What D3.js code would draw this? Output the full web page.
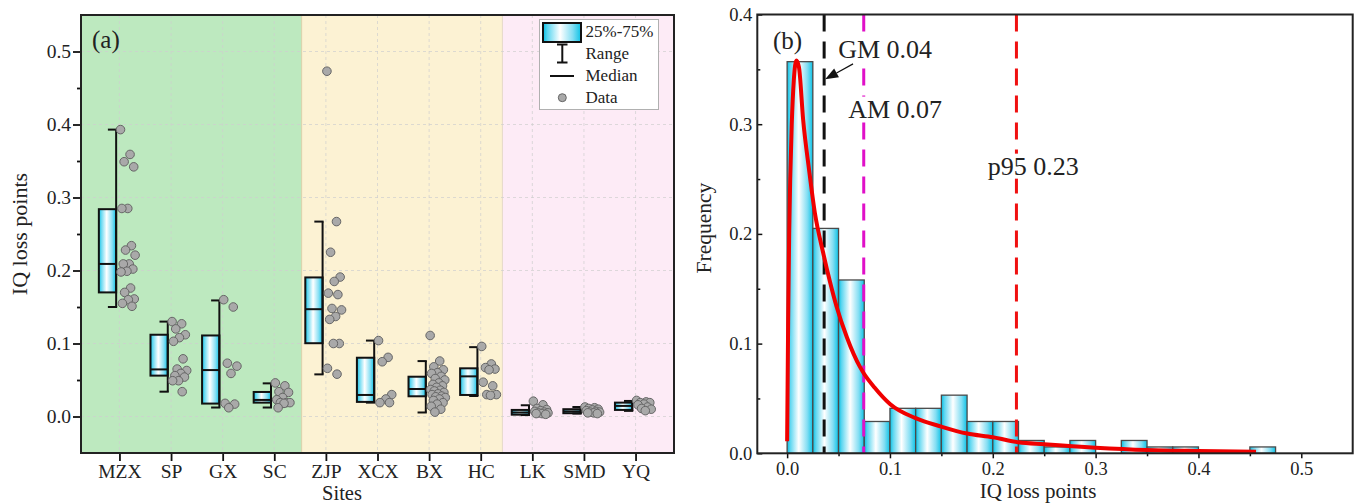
<!DOCTYPE html>
<html><head><meta charset="utf-8">
<script src="https://cdn.jsdelivr.net/npm/d3@7"></script>
<style>
body{margin:0;background:#fff}
svg{display:block;font-family:"Liberation Serif","Times New Roman",Times,serif}
</style>
</head><body>
<svg id="c" width="1354" height="504"></svg>
<script>
// ---------- DATA: panel (a) ----------
const sites   = ["MZX","SP","GX","SC","ZJP","XCX","BX","HC","LK","SMD","YQ"];
const q1      = [0.170,0.056,0.0177,0.019,0.1004,0.020,0.0277,0.0295,0.0025,0.0045,0.009];
const median  = [0.209,0.0645,0.0636,0.0227,0.147,0.0295,0.0377,0.055,0.0055,0.007,0.0145];
const q3      = [0.284,0.112,0.111,0.0336,0.1905,0.0805,0.0545,0.066,0.009,0.010,0.019];
const rangeMin= [0.150,0.034,0.0123,0.0123,0.0577,0.019,0.0055,0.0281,0.002,0.004,0.0077];
const rangeMax= [0.393,0.130,0.159,0.0454,0.267,0.104,0.0759,0.095,0.0154,0.013,0.0213];
const dataMZX = [0.393,0.359,0.349,0.342,0.285,0.285,0.234,0.228,0.221,0.209,0.209,0.202,0.199,0.198,0.176,0.170,0.161,0.160,0.155,0.151];
const dataSP  = [0.130,0.127,0.120,0.112,0.108,0.103,0.079,0.065,0.063,0.059,0.056,0.054,0.049,0.049,0.034];
const dataGX  = [0.160,0.150,0.073,0.069,0.059,0.018,0.017,0.012];
const dataSC  = [0.046,0.042,0.034,0.033,0.026,0.023,0.019,0.019,0.019,0.018,0.012];
const dataZJP = [0.473,0.267,0.225,0.191,0.185,0.169,0.167,0.148,0.146,0.137,0.133,0.100,0.100,0.066,0.058];
const dataXCX = [0.104,0.081,0.075,0.030,0.024,0.019,0.019];
const dataBX  = [0.111,0.076,0.068,0.064,0.060,0.059,0.055,0.052,0.050,0.046,0.044,0.042,0.040,0.037,0.036,0.035,0.033,0.031,0.030,0.028,0.027,0.026,0.024,0.022,0.019,0.017,0.014,0.010,0.006];
const dataHC  = [0.096,0.072,0.067,0.065,0.064,0.047,0.042,0.030,0.030,0.029];
const dataLK  = [0.021,0.016,0.011,0.0095,0.008,0.007,0.006,0.005,0.005,0.004,0.004,0.003];
const dataSMD = [0.013,0.012,0.011,0.010,0.009,0.008,0.007,0.006,0.006,0.005,0.005,0.004];
const dataYQ  = [0.022,0.020,0.019,0.019,0.017,0.016,0.013,0.011,0.010,0.008];
const siteData = [dataMZX,dataSP,dataGX,dataSC,dataZJP,dataXCX,dataBX,dataHC,dataLK,dataSMD,dataYQ];
const yTicksA = [0.0,0.1,0.2,0.3,0.4,0.5];
const yMinorA = [0.05,0.15,0.25,0.35,0.45];
const legendLabels = ["25%-75%","Range","Median","Data"];

// ---------- DATA: panel (b) ----------
const binLo = [0.000,0.025,0.050,0.075,0.100,0.125,0.150,0.175,0.200,0.225,0.250,0.275,0.300,0.325,0.350,0.375,0.400,0.425,0.450];
const freq  = [0.357,0.205,0.158,0.029,0.041,0.041,0.053,0.029,0.029,0.0117,0.0058,0.0117,0,0.0117,0.0058,0.0058,0,0,0.0058];
const binWidth = 0.025;
const fitX = [0.000,0.001,0.002,0.003,0.0045,0.0065,0.009,0.0115,0.0156,0.0214,0.027,0.035,0.0415,0.048,0.058,0.0707,0.0745,0.085,0.100,0.125,0.150,0.175,0.200,0.225,0.250,0.300,0.350,0.400,0.456];
const fitY = [0.011,0.120,0.200,0.250,0.300,0.340,0.358,0.352,0.304,0.258,0.219,0.183,0.157,0.134,0.106,0.079,0.073,0.060,0.045,0.032,0.0243,0.018,0.0146,0.010,0.0082,0.0051,0.0030,0.0021,0.0015];
const refNames  = ["GM","AM","p95"];
const refValues = [0.036,0.0745,0.223];
const refLabels = ["GM 0.04","AM 0.07","p95 0.23"];
const refLabelY = [0.36,0.306,0.254];
const xTicksB = [0.0,0.1,0.2,0.3,0.4,0.5];
const xMinorB = [0.05,0.15,0.25,0.35,0.45];
const yTicksB = [0.0,0.1,0.2,0.3,0.4];
const yMinorB = [0.05,0.15,0.25,0.35];

// ---------- DRAW ----------
const svg = d3.select("#c");
const defs = svg.append("defs");
const grad = defs.append("linearGradient").attr("id","cyan")
  .attr("x1","0%").attr("x2","100%").attr("y1","0%").attr("y2","0%");
[[0,"#06c0e4"],[0.12,"#5cd6f0"],[0.45,"#ffffff"],[0.78,"#84def3"],[1,"#0cc2e6"]]
  .forEach(([o,c])=>grad.append("stop").attr("offset",o).attr("stop-color",c));

const fmt = d3.format(".1f");
function styleAxis(a, fs, sw){
  a.attr("font-family",null).attr("font-size",null);
  a.select(".domain").remove();
  a.selectAll("line").attr("stroke","#111").attr("stroke-width",sw);
  a.selectAll("text").attr("font-size",fs).attr("fill","#222");
}

// ===== Panel (a) =====
const A = {x0:81, x1:674, y0:15, y1:453};
const xA = d3.scalePoint().domain(sites).range([A.x0,A.x1]).padding(0.745);
const yA = d3.scaleLinear().domain([-0.05,0.55]).range([A.y1,A.y0]);
const step = xA.step();
const gA = svg.append("g");

// zones
const b1 = xA("SC")+0.53*step, b2 = xA("HC")+0.42*step;
[[A.x0,b1,"#bde9bf"],[b1,b2,"#fcf2d3"],[b2,A.x1,"#fdebf6"]].forEach(([a,b,c])=>{
  gA.append("rect").attr("x",a).attr("y",A.y0).attr("width",b-a).attr("height",A.y1-A.y0).attr("fill",c);
});
gA.append("line").attr("x1",b1).attr("x2",b1).attr("y1",A.y0).attr("y2",A.y1).attr("stroke","#d8d0a8").attr("stroke-width",1);
gA.append("line").attr("x1",b2).attr("x2",b2).attr("y1",A.y0).attr("y2",A.y1).attr("stroke","#e6d8c8").attr("stroke-width",1);

// grid
yTicksA.forEach(v=>gA.append("line").attr("x1",A.x0).attr("x2",A.x1).attr("y1",yA(v)).attr("y2",yA(v))
  .attr("stroke","#cfcfcf").attr("stroke-width",0.7).attr("stroke-dasharray","3,3"));
sites.forEach(s=>gA.append("line").attr("x1",xA(s)).attr("x2",xA(s)).attr("y1",A.y0).attr("y2",A.y1)
  .attr("stroke","#cfcfcf").attr("stroke-width",0.7).attr("stroke-dasharray","3,3"));

// boxes
sites.forEach((s,i)=>{
  const cx = xA(s);
  const right = cx - 0.064*step, left = right - 0.335*step;
  gA.append("rect").attr("x",left).attr("y",yA(q3[i])).attr("width",right-left)
    .attr("height",Math.max(yA(q1[i])-yA(q3[i]),1)).attr("fill","url(#cyan)")
    .attr("stroke","#111").attr("stroke-width",2);
  gA.append("line").attr("x1",left).attr("x2",right).attr("y1",yA(median[i])).attr("y2",yA(median[i]))
    .attr("stroke","#111").attr("stroke-width",2);
  gA.append("line").attr("x1",right).attr("x2",right).attr("y1",yA(rangeMin[i])).attr("y2",yA(rangeMax[i]))
    .attr("stroke","#111").attr("stroke-width",2);
  [rangeMin[i],rangeMax[i]].forEach(v=>gA.append("line").attr("x1",right-0.16*step).attr("x2",right+1)
    .attr("y1",yA(v)).attr("y2",yA(v)).attr("stroke","#111").attr("stroke-width",2));
});
// points
sites.forEach((s,i)=>{
  const cx = xA(s);
  siteData[i].forEach((v,j)=>{
    const off = (0.02 + ((j*0.618034)%1)*0.30)*step;
    gA.append("circle").attr("cx",cx+off).attr("cy",yA(v)).attr("r",4.3)
      .attr("fill","#a9a9a9").attr("stroke","#666").attr("stroke-width",1);
  });
});

// axes
const axA_y = gA.append("g").attr("transform",`translate(${A.x0},0)`)
  .call(d3.axisLeft(yA).tickValues(yTicksA).tickSize(8).tickPadding(2).tickFormat(fmt));
const axA_ym = gA.append("g").attr("transform",`translate(${A.x0},0)`)
  .call(d3.axisLeft(yA).tickValues(yMinorA).tickSize(4).tickFormat(""));
const axA_x = gA.append("g").attr("transform",`translate(0,${A.y1})`)
  .call(d3.axisBottom(xA).tickSize(8).tickPadding(3));
[axA_y,axA_ym,axA_x].forEach(a=>styleAxis(a,19.5,1.8));
gA.append("rect").attr("x",A.x0).attr("y",A.y0).attr("width",A.x1-A.x0).attr("height",A.y1-A.y0)
  .attr("fill","none").attr("stroke","#222").attr("stroke-width",2);

gA.append("text").attr("x",92).attr("y",48).attr("font-size",25).attr("fill","#222").text("(a)");
gA.append("text").attr("transform","translate(27,234) rotate(-90)").attr("text-anchor","middle")
  .attr("font-size",22).attr("fill","#222").text("IQ loss points");
gA.append("text").attr("x",342).attr("y",499.5).attr("text-anchor","middle")
  .attr("font-size",20.5).attr("fill","#222").text("Sites");

// legend
const lg = gA.append("g");
lg.append("rect").attr("x",539.5).attr("y",19.5).attr("width",119).attr("height",90)
  .attr("fill","#fff").attr("stroke","#b0b0b0").attr("stroke-width",1);
lg.append("rect").attr("x",543).attr("y",23).attr("width",38).attr("height",19)
  .attr("fill","url(#cyan)").attr("stroke","#111").attr("stroke-width",2);
lg.append("line").attr("x1",562.3).attr("x2",562.3).attr("y1",44.5).attr("y2",62.5).attr("stroke","#111").attr("stroke-width",2);
[44.5,62.5].forEach(y=>lg.append("line").attr("x1",557).attr("x2",567.5).attr("y1",y).attr("y2",y).attr("stroke","#111").attr("stroke-width",2));
lg.append("line").attr("x1",550).attr("x2",574).attr("y1",76).attr("y2",76).attr("stroke","#111").attr("stroke-width",2);
lg.append("circle").attr("cx",562.3).attr("cy",97.7).attr("r",4).attr("fill","#a9a9a9").attr("stroke","#666").attr("stroke-width",1);
[37,59,81,103].forEach((y,k)=>lg.append("text").attr("x",585.5).attr("y",y).attr("font-size",17)
  .attr("fill","#222").text(legendLabels[k]));

// ===== Panel (b) =====
const B = {x0:757.3, x1:1352.7, y0:14.5, y1:453.3};
const xB = d3.scaleLinear().domain([-0.029,0.55]).range([B.x0,B.x1]);
const yB = d3.scaleLinear().domain([0,0.4]).range([B.y1,B.y0]);
const gB = svg.append("g");

// bars
binLo.forEach((lo,i)=>{
  if(freq[i]<=0) return;
  gB.append("rect").attr("x",xB(lo)).attr("y",yB(freq[i])).attr("width",xB(lo+binWidth)-xB(lo))
    .attr("height",yB(0)-yB(freq[i])).attr("fill","url(#cyan)").attr("stroke","#4a4a4a").attr("stroke-width",1.3);
});

// reference lines
const refColors = ["#111","#e010c8","#f01010"];
refValues.forEach((v,i)=>{
  gB.append("line").attr("x1",xB(v)).attr("x2",xB(v)).attr("y1",yB(0.4)).attr("y2",yB(0))
    .attr("stroke",refColors[i]).attr("stroke-width",3).attr("stroke-dasharray","17,10");
});

// fitted curve
const fitPts = fitX.map((x,i)=>[x,fitY[i]]);
gB.append("path").datum(fitPts)
  .attr("d",d3.line().x(d=>xB(d[0])).y(d=>yB(d[1])).curve(d3.curveMonotoneX))
  .attr("fill","none").attr("stroke","#f00000").attr("stroke-width",4).attr("stroke-linejoin","round");

// labels with white background
const labelX = [0.0497,0.0594,0.195];
refLabels.forEach((t,i)=>{
  const tg = gB.append("g");
  const tx = tg.append("text").attr("x",xB(labelX[i])).attr("y",yB(refLabelY[i]))
    .attr("font-size",26).attr("fill","#222").text(t);
  const bb = tx.node().getBBox();
  tg.insert("rect","text").attr("x",bb.x-1).attr("y",bb.y+2).attr("width",bb.width+2).attr("height",bb.height-4).attr("fill","#fff");
});

// arrow to GM line
const arrowFrom = [0.0641,0.355], arrowTo = [0.0370,0.341];
{
  const x1=xB(arrowFrom[0]), y1=yB(arrowFrom[1]), x2=xB(arrowTo[0]), y2=yB(arrowTo[1]);
  const dx=x2-x1, dy=y2-y1, L=Math.hypot(dx,dy), ux=dx/L, uy=dy/L;
  const hl=13, hw=5;
  const bx=x2-ux*hl, by=y2-uy*hl;
  gB.append("line").attr("x1",x1).attr("y1",y1).attr("x2",bx).attr("y2",by).attr("stroke","#111").attr("stroke-width",1.2);
  gB.append("path").attr("d",`M${x2},${y2}L${bx-uy*hw},${by+ux*hw}L${bx+uy*hw},${by-ux*hw}Z`).attr("fill","#111");
}

// axes
const axB_y = gB.append("g").attr("transform",`translate(${B.x0},0)`)
  .call(d3.axisLeft(yB).tickValues(yTicksB).tickSize(-5).tickPadding(5).tickFormat(fmt));
const axB_ym = gB.append("g").attr("transform",`translate(${B.x0},0)`)
  .call(d3.axisLeft(yB).tickValues(yMinorB).tickSize(-3).tickFormat(""));
const axB_x = gB.append("g").attr("transform",`translate(0,${B.y1})`)
  .call(d3.axisBottom(xB).tickValues(xTicksB).tickSize(5).tickPadding(3.5).tickFormat(fmt));
const axB_xm = gB.append("g").attr("transform",`translate(0,${B.y1})`)
  .call(d3.axisBottom(xB).tickValues(xMinorB).tickSize(3).tickFormat(""));
[axB_y,axB_ym,axB_x,axB_xm].forEach(a=>styleAxis(a,18.5,1.5));
gB.append("rect").attr("x",B.x0).attr("y",B.y0).attr("width",B.x1-B.x0).attr("height",B.y1-B.y0)
  .attr("fill","none").attr("stroke","#222").attr("stroke-width",2);

gB.append("text").attr("x",773).attr("y",49).attr("font-size",25).attr("fill","#222").text("(b)");
gB.append("text").attr("transform","translate(711,228) rotate(-90)").attr("text-anchor","middle")
  .attr("font-size",21.5).attr("fill","#222").text("Frequency");
gB.append("text").attr("x",1038).attr("y",498).attr("text-anchor","middle")
  .attr("font-size",21).attr("fill","#222").text("IQ loss points");
</script>
</body></html>
